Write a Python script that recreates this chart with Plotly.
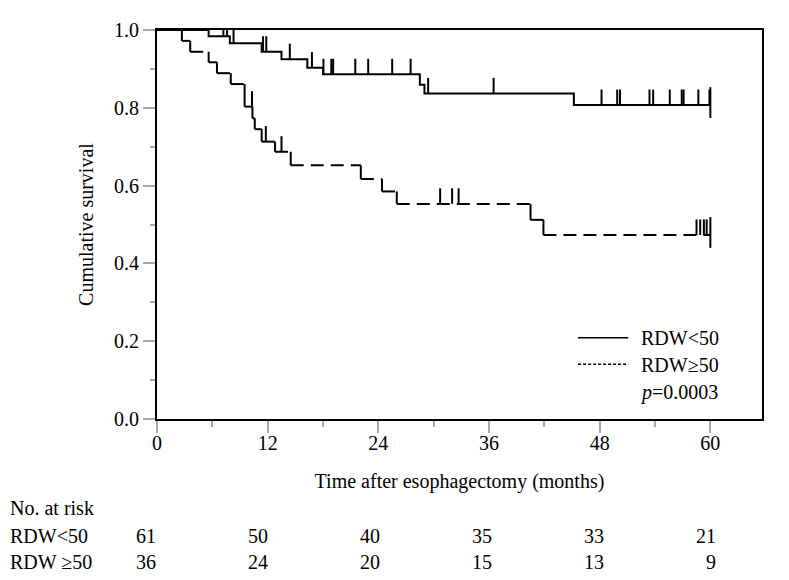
import plotly.graph_objects as go

# Kaplan-Meier curves: time of each drop (months) and survival after it
low_event_t = [5.6, 7.9, 11.35, 13.5, 16.3, 18.0, 28.5, 29.0, 45.2]
low_event_s = [0.984, 0.966, 0.944, 0.925, 0.903, 0.886, 0.859, 0.837, 0.807]
low_censor_t = [7.2, 7.6, 8.3, 11.5, 11.85, 14.4, 16.8, 18.05, 18.9, 19.1, 21.5, 22.9,
                25.5, 27.5, 29.4, 36.5, 48.2, 49.9, 50.2, 53.4, 53.8, 55.6, 56.9, 57.1,
                58.7, 59.9]

high_event_t = [2.7, 3.6, 5.6, 6.5, 8.0, 9.5, 10.35, 10.6, 11.35, 12.8, 14.5, 22.1,
                24.4, 26.0, 40.5, 41.9]
high_event_s = [0.972, 0.944, 0.917, 0.889, 0.861, 0.803, 0.773, 0.745, 0.713, 0.687,
                0.652, 0.617, 0.585, 0.553, 0.512, 0.473]
high_censor_t = [10.3, 11.8, 13.5, 30.7, 32.0, 32.7, 58.5, 58.9, 59.3, 59.6]

follow_up_end = 60

group_names = ["RDW&lt;50", "RDW≥50"]
risk_names = ["RDW&lt;50", "RDW ≥50"]
p_text = "<i>p</i>=0.0003"

risk_times = [0, 12, 24, 36, 48, 60]
risk_low = [61, 50, 40, 35, 33, 21]
risk_high = [36, 24, 20, 15, 13, 9]

FONT = "Liberation Serif"
TICK_H = 0.04


def surv_at(t, ev_t, ev_s):
    s = 1.0
    for et, es in zip(ev_t, ev_s):
        if et <= t:
            s = es
    return s


def censor_segments(cens, ev_t, ev_s):
    xs, ys = [], []
    for c in cens:
        s = surv_at(c, ev_t, ev_s)
        xs += [c, c, None]
        ys += [s, s + TICK_H, None]
    # end of follow-up marker crosses the line
    s = surv_at(follow_up_end, ev_t, ev_s)
    xs += [follow_up_end, follow_up_end, None]
    ys += [s - 0.033, s + 0.046, None]
    return xs, ys


def step_pieces(ev_t, ev_s):
    # horizontal runs and vertical drops as separate sub-paths
    ts = [0] + ev_t + [follow_up_end]
    ss = [1.0] + ev_s
    hx, hy, vx, vy = [], [], [], []
    for i in range(len(ss)):
        hx += [ts[i], ts[i + 1], None]
        hy += [ss[i], ss[i], None]
    for i in range(len(ev_t)):
        vx += [ev_t[i], ev_t[i], None]
        vy += [ss[i], ss[i + 1], None]
    return hx, hy, vx, vy


fig = go.Figure()

# RDW<50: solid step curve
fig.add_trace(go.Scatter(
    x=[0] + low_event_t + [follow_up_end],
    y=[1.0] + low_event_s + [low_event_s[-1]],
    mode="lines", line=dict(color="black", width=2, shape="hv"),
    showlegend=False, hoverinfo="skip"))

# RDW>=50: dashed horizontals, solid drops
hx, hy, vx, vy = step_pieces(high_event_t, high_event_s)
fig.add_trace(go.Scatter(x=hx, y=hy, mode="lines",
                         line=dict(color="black", width=2, dash="13px,7px"),
                         showlegend=False, hoverinfo="skip"))
fig.add_trace(go.Scatter(x=vx, y=vy, mode="lines",
                         line=dict(color="black", width=2),
                         showlegend=False, hoverinfo="skip"))

for ev_t, ev_s, cens in [(low_event_t, low_event_s, low_censor_t),
                         (high_event_t, high_event_s, high_censor_t)]:
    cx, cy = censor_segments(cens, ev_t, ev_s)
    fig.add_trace(go.Scatter(x=cx, y=cy, mode="lines",
                             line=dict(color="black", width=2),
                             showlegend=False, hoverinfo="skip"))

# legend drawn by hand, as in the original
fig.add_shape(type="line", xref="paper", yref="paper", x0=0.696, x1=0.779, y0=0.209, y1=0.209,
              line=dict(color="black", width=1.5))
fig.add_shape(type="line", xref="paper", yref="paper", x0=0.696, x1=0.779, y0=0.141, y1=0.141,
              line=dict(color="black", width=1.5, dash="3px,2px"))
for name, yy in zip(group_names, [0.209, 0.138]):
    fig.add_annotation(text=name, xref="paper", yref="paper", x=0.797, y=yy,
                       xanchor="left", yanchor="middle", showarrow=False,
                       font=dict(family=FONT, size=20, color="black"))
fig.add_annotation(text=p_text, xref="paper", yref="paper", x=0.795, y=0.068,
                   xanchor="left", yanchor="middle", showarrow=False,
                   font=dict(family=FONT, size=20, color="black"))

# number at risk table (numbers right-aligned, slightly wider spread than the axis)
fig.add_annotation(text="No. at risk", xref="paper", yref="paper", x=-0.246, y=-0.229,
                   xanchor="left", yanchor="middle", showarrow=False,
                   font=dict(family=FONT, size=20, color="black"))
for name, counts, yy in zip(risk_names, [risk_low, risk_high], [-0.301, -0.368]):
    fig.add_annotation(text=name, xref="paper", yref="paper", x=-0.246, y=yy,
                       xanchor="left", yanchor="middle", showarrow=False,
                       font=dict(family=FONT, size=20, color="black"))
    for t, n in zip(risk_times, counts):
        fig.add_annotation(text=str(n), xref="x", yref="paper", x=t * 1.013 + 0.1, y=yy,
                           xanchor="right", yanchor="middle", showarrow=False,
                           font=dict(family=FONT, size=20, color="black"))

fig.update_layout(
    width=781, height=572,
    margin=dict(l=149, r=27, t=22, b=161),
    plot_bgcolor="white", paper_bgcolor="white",
    font=dict(family=FONT, size=20, color="black"),
    xaxis=dict(range=[0, 65.6], tickvals=risk_times, ticks="outside", ticklen=12,
               tickcolor="#a8a8a8", tickwidth=2, showline=True, linecolor="black",
               linewidth=2, mirror=True, showgrid=False, zeroline=False,
               ticklabelstandoff=-7,
               minor=dict(ticks="outside", ticklen=6, tickcolor="#a8a8a8", tickwidth=2,
                          dtick=6, tick0=0, showgrid=False),
               title=dict(text="Time after esophagectomy (months)", standoff=21,
                          font=dict(family=FONT, size=20))),
    yaxis=dict(range=[0, 1], dtick=0.2, tickformat=".1f", ticks="outside", ticklen=12,
               tickcolor="#a8a8a8", tickwidth=2, showline=True, linecolor="black",
               linewidth=2, mirror=True, showgrid=False, zeroline=False,
               minor=dict(ticks="outside", ticklen=5, tickcolor="#a8a8a8", tickwidth=2,
                          dtick=0.1, showgrid=False),
               title=dict(text="Cumulative survival", standoff=15,
                          font=dict(family=FONT, size=20))),
)

fig.write_html("out.html")
